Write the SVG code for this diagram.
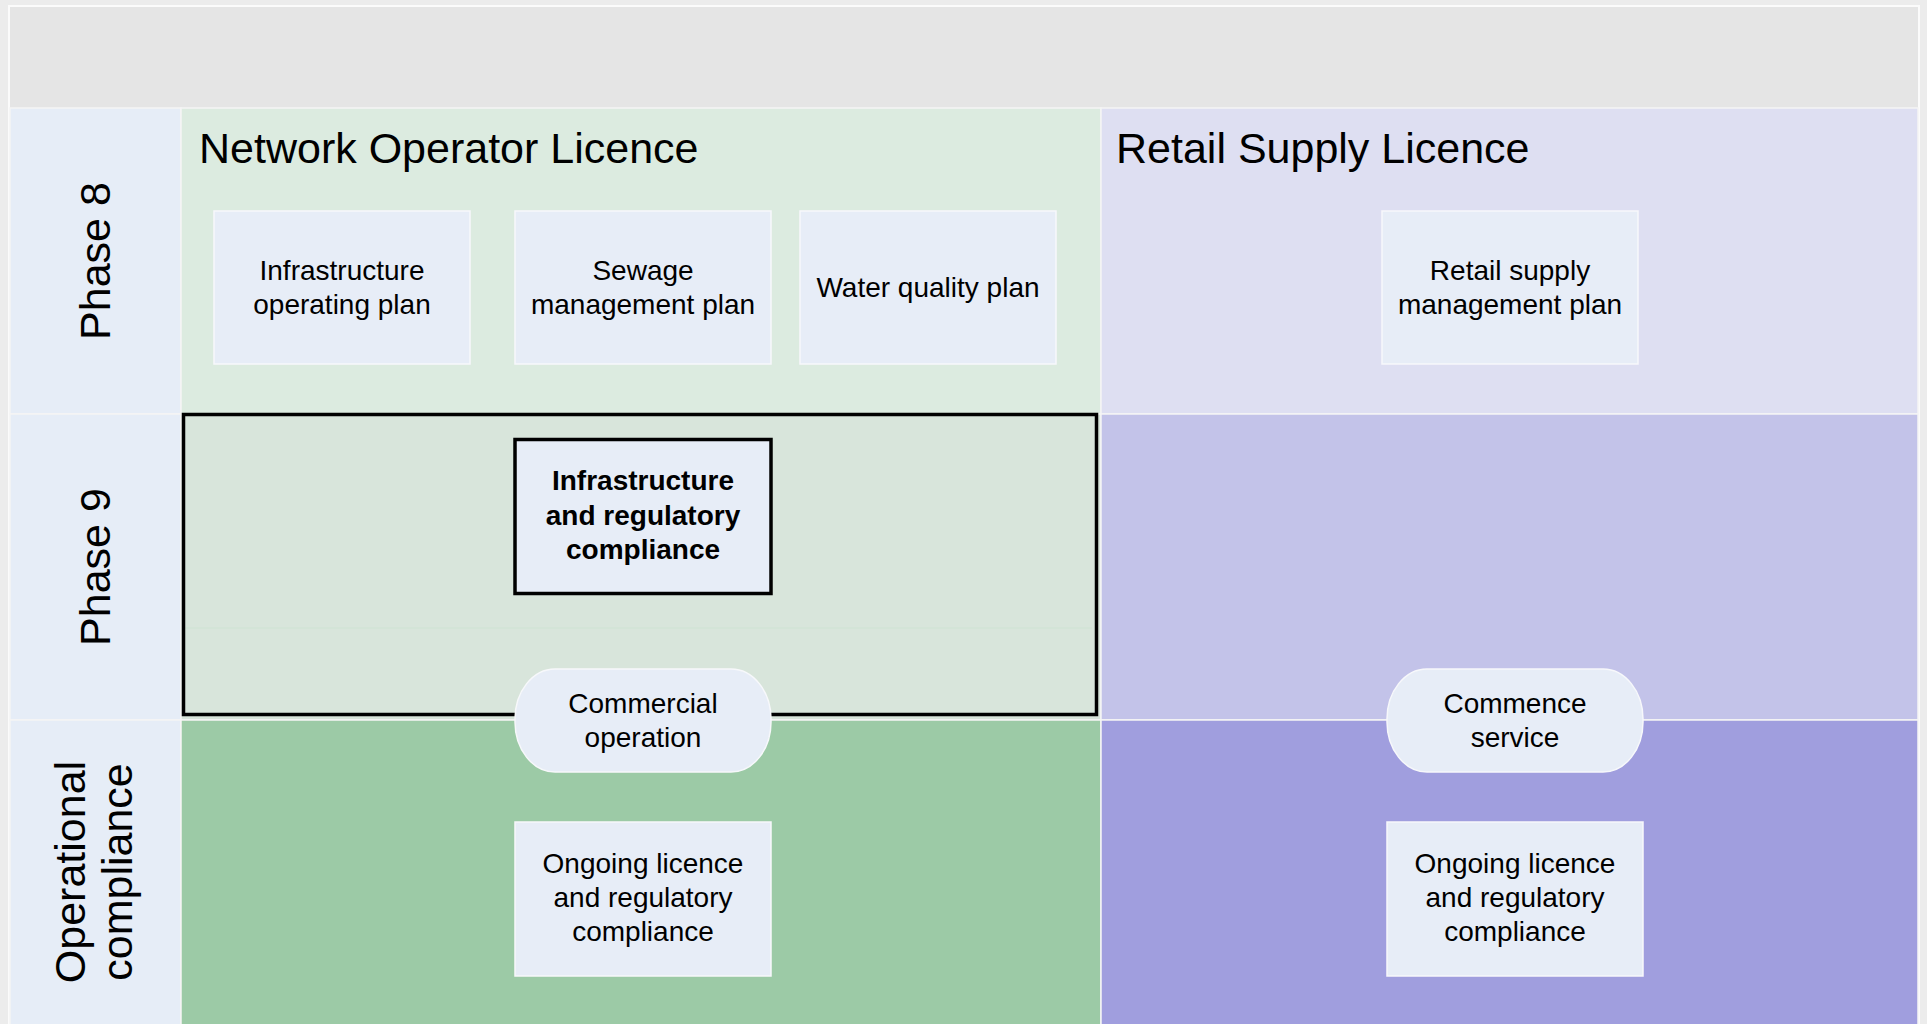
<svg xmlns="http://www.w3.org/2000/svg" width="1927" height="1024" viewBox="0 0 1927 1024">
<style>
.cell{stroke:#f5f5f5;stroke-width:1.5}
.box{fill:#e7edf7;stroke:#f7f8fb;stroke-width:1.5}
.t{font-family:"Liberation Sans",Arial,sans-serif;font-size:28px;fill:#000;text-anchor:middle}
.b{font-weight:bold}
.title{font-family:"Liberation Sans",Arial,sans-serif;font-size:43px;fill:#000}
.lab{font-family:"Liberation Sans",Arial,sans-serif;font-size:43px;fill:#000;text-anchor:middle}
</style>
<rect x="0" y="0" width="1927" height="1024" fill="#ececec"/>
<g id="frame">
<rect x="9" y="6" width="1910" height="1030" fill="#e5e5e5" stroke="#fbfbfb" stroke-width="2"/>
<rect class="cell" x="10" y="108" width="171" height="306" fill="#e6edf7"/>
<rect class="cell" x="10" y="414" width="171" height="306" fill="#e6edf7"/>
<rect class="cell" x="10" y="720" width="171" height="310" fill="#e6edf7"/>
<rect class="cell" x="181" y="108" width="920" height="306" fill="#dcebe0"/>
<rect class="cell" x="181" y="414" width="920" height="306" fill="#d8e5db"/>
<rect class="cell" x="181" y="720" width="920" height="310" fill="#9ccaa6"/>
<rect class="cell" x="1101" y="108" width="817" height="306" fill="#dedff2"/>
<rect class="cell" x="1101" y="414" width="817" height="306" fill="#c3c3e9"/>
<rect class="cell" x="1101" y="720" width="817" height="310" fill="#a09ede"/>
<line x1="184" y1="628" x2="1092" y2="628" stroke="#d2e3d6" stroke-width="1.5"/>
</g>
<g id="labels">
<text class="title" x="199" y="163">Network Operator Licence</text>
<text class="title" x="1116" y="163">Retail Supply Licence</text>
<text class="lab" transform="translate(110,261) rotate(-90)">Phase 8</text>
<text class="lab" transform="translate(110,567) rotate(-90)">Phase 9</text>
<text class="lab" transform="translate(85,872) rotate(-90)">Operational</text>
<text class="lab" transform="translate(132,872) rotate(-90)">compliance</text>
</g>
<g id="phase9-boundary">
<rect x="183.5" y="414.5" width="913" height="300" fill="none" stroke="#000" stroke-width="3.5"/>
</g>
<g id="connectors"></g>
<g id="node-infra-plan">
<rect class="box" x="214" y="211" width="256" height="153"/>
<text class="t" x="342" y="280">Infrastructure</text>
<text class="t" x="342" y="314">operating plan</text>
</g>
<g id="node-sewage-plan">
<rect class="box" x="515" y="211" width="256" height="153"/>
<text class="t" x="643" y="280">Sewage</text>
<text class="t" x="643" y="314">management plan</text>
</g>
<g id="node-water-plan">
<rect class="box" x="800" y="211" width="256" height="153"/>
<text class="t" x="928" y="297">Water quality plan</text>
</g>
<g id="node-retail-plan">
<rect class="box" x="1382" y="211" width="256" height="153"/>
<text class="t" x="1510" y="280">Retail supply</text>
<text class="t" x="1510" y="314">management plan</text>
</g>
<g id="node-infra-compliance">
<rect x="515" y="439.5" width="256" height="154" fill="#e7edf7" stroke="#000" stroke-width="3.5"/>
<text class="t b" x="643" y="490">Infrastructure</text>
<text class="t b" x="643" y="524.5">and regulatory</text>
<text class="t b" x="643" y="559">compliance</text>
</g>
<g id="node-commercial-operation">
<rect class="box" x="515" y="669" width="256" height="103" rx="40" ry="50"/>
<text class="t" x="643" y="713">Commercial</text>
<text class="t" x="643" y="747">operation</text>
</g>
<g id="node-commence-service">
<rect class="box" x="1387" y="669" width="256" height="103" rx="40" ry="50"/>
<text class="t" x="1515" y="713">Commence</text>
<text class="t" x="1515" y="747">service</text>
</g>
<g id="node-ongoing-network">
<rect class="box" x="515" y="822" width="256" height="154"/>
<text class="t" x="643" y="873">Ongoing licence</text>
<text class="t" x="643" y="907">and regulatory</text>
<text class="t" x="643" y="941">compliance</text>
</g>
<g id="node-ongoing-retail">
<rect class="box" x="1387" y="822" width="256" height="154"/>
<text class="t" x="1515" y="873">Ongoing licence</text>
<text class="t" x="1515" y="907">and regulatory</text>
<text class="t" x="1515" y="941">compliance</text>
</g>
</svg>
